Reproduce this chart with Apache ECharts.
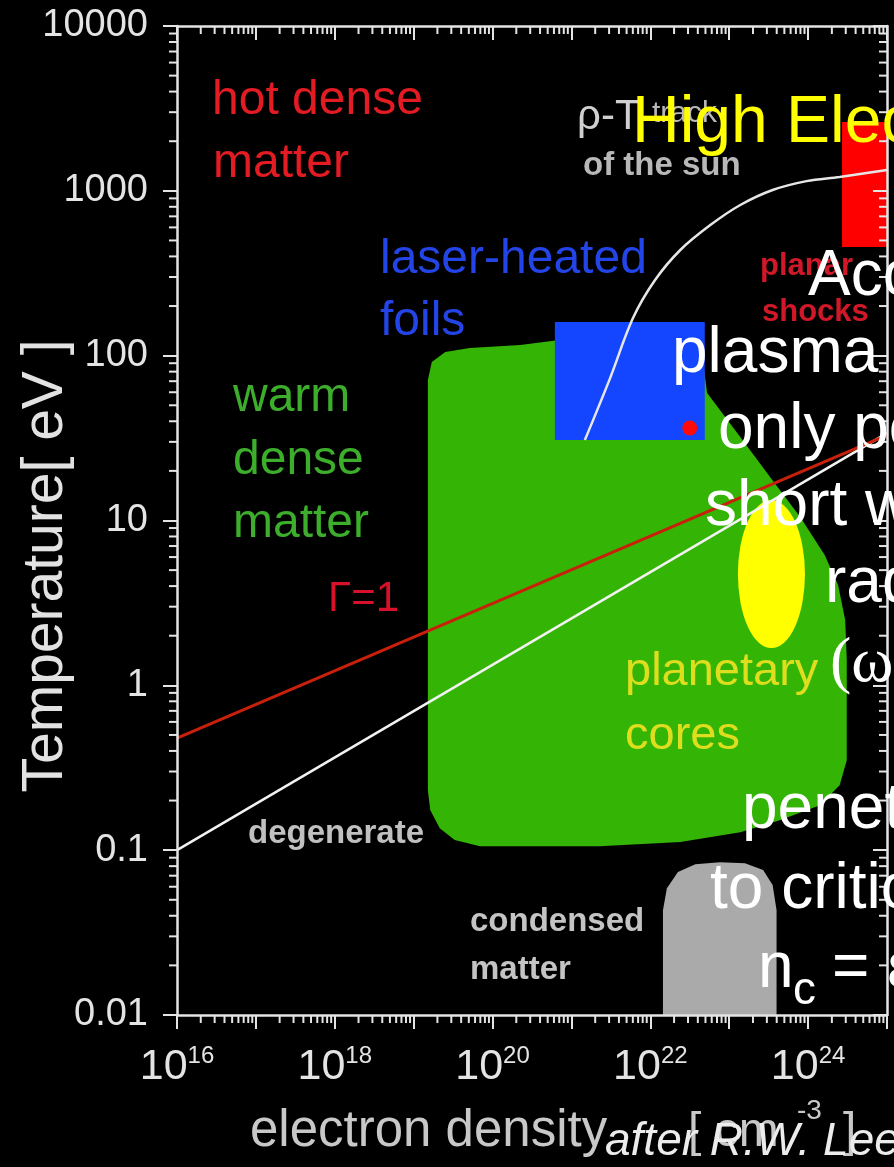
<!DOCTYPE html>
<html>
<head>
<meta charset="utf-8">
<script src="https://cdn.jsdelivr.net/npm/echarts@6/dist/echarts.min.js"></script>
<style>
  html, body { margin: 0; padding: 0; background: #000; }
  #chart { width: 894px; height: 1167px; }
</style>
</head>
<body>
<div id="chart"></div>
<script>
const SANS = '"Liberation Sans", Arial, Helvetica, sans-serif';
const SERIF = '"Liberation Serif", "Times New Roman", serif';
const AXIS_COLOR = '#e4e4e4';

// Axis ranges as powers of ten
const densityExpRange = [16, 25];   // electron density, cm^-3
const tempExpRange = [-2, 4];       // temperature, eV
const tempTickLabels = { '-2': '0.01', '-1': '0.1', '0': '1', '1': '10', '2': '100', '3': '1000', '4': '10000' };
const minorMultipliers = [2, 3, 4, 5, 6, 7, 8, 9];

// Regions and curves, as [log10 n_e, log10 T]
const warmDenseMatter = [
  [19.18, 1.852], [19.23, 1.961], [19.40, 2.022], [19.71, 2.046], [20.35, 2.064],
  [20.85, 2.095], [22.63, 2.095], [22.72, 1.773], [23.14, 1.506], [23.52, 1.263],
  [23.90, 1.021], [24.21, 0.790], [24.38, 0.608], [24.47, 0.396], [24.49, 0.153],
  [24.49, -0.454], [24.40, -0.606], [24.15, -0.727], [23.64, -0.818], [23.14, -0.891],
  [22.38, -0.951], [21.36, -0.976], [19.84, -0.976], [19.52, -0.939], [19.33, -0.867],
  [19.21, -0.757], [19.18, -0.636]
];
const condensedMatter = [
  [22.16, -2.0], [22.16, -1.364], [22.21, -1.231], [22.35, -1.133], [22.57, -1.085],
  [22.88, -1.073], [23.20, -1.079], [23.43, -1.121], [23.55, -1.212], [23.60, -1.364],
  [23.60, -2.0]
];
const laserHeatedFoils = [[20.79, 1.488], [22.69, 2.204]];   // opposite corners
const planarShocks = [[24.43, 2.659], [25.0, 3.417]];        // opposite corners
const planetaryCores = [[23.11, 0.226], [23.96, 1.124]];     // ellipse bounding box
const gammaOneLine = [[16.0, -0.320], [25.0, 1.518]];
const degenerateLine = [[16.0, -1.0], [25.0, 1.530]];
const sunTrack = [
  [21.17, 1.488], [21.49, 1.864], [21.78, 2.228], [22.06, 2.459], [22.38, 2.641],
  [22.76, 2.792], [23.14, 2.914], [23.55, 3.005], [23.98, 3.059], [24.40, 3.084],
  [25.00, 3.126]
];
const experimentPoint = [[22.50, 1.561]];

const toValue = p => [Math.pow(10, p[0]), Math.pow(10, p[1])];

function minorValues(expRange) {
  const out = [];
  for (let e = expRange[0]; e < expRange[1]; e++) {
    minorMultipliers.forEach(m => out.push(m * Math.pow(10, e)));
  }
  return out;
}

function polygonSeries(name, pts, color, z) {
  const data = pts.map(toValue);
  return {
    type: 'custom', name, z, silent: true, clip: false, data,
    renderItem(params, api) {
      if (params.dataIndex !== 0) return null;
      return { type: 'polygon', shape: { points: data.map(d => api.coord(d)) }, style: { fill: color } };
    }
  };
}

function boxSeries(name, corners, color, z) {
  const data = corners.map(toValue);
  return {
    type: 'custom', name, z, silent: true, clip: true, data,
    renderItem(params, api) {
      if (params.dataIndex !== 0) return null;
      const a = api.coord(data[0]), b = api.coord(data[1]);
      return {
        type: 'rect',
        shape: { x: Math.min(a[0], b[0]), y: Math.min(a[1], b[1]), width: Math.abs(b[0] - a[0]), height: Math.abs(b[1] - a[1]) },
        style: { fill: color }
      };
    }
  };
}

function ellipseSeries(name, corners, color, z) {
  const data = corners.map(toValue);
  return {
    type: 'custom', name, z, silent: true, clip: false, data,
    renderItem(params, api) {
      if (params.dataIndex !== 0) return null;
      const a = api.coord(data[0]), b = api.coord(data[1]);
      const rx = Math.abs(b[0] - a[0]) / 2, ry = Math.abs(b[1] - a[1]) / 2;
      return {
        type: 'circle', x: (a[0] + b[0]) / 2, y: (a[1] + b[1]) / 2, scaleX: rx / ry, scaleY: 1,
        shape: { cx: 0, cy: 0, r: ry }, style: { fill: color }
      };
    }
  };
}

function lineSeries(name, pts, color, width, smooth, z) {
  return {
    type: 'line', name, z, silent: true, symbol: 'none', smooth, data: pts.map(toValue),
    lineStyle: { color, width }
  };
}

// Log-decade minor ticks on the four sides of the frame
function minorTickSeries(axis) {
  const values = axis === 'x' ? minorValues(densityExpRange) : minorValues(tempExpRange);
  const data = values.map(v => axis === 'x' ? [v, 1] : [1e20, v]);
  const len = 8;
  return {
    type: 'custom', name: axis + ' minor ticks', z: 7, silent: true, clip: false, data,
    renderItem(params, api) {
      const cs = params.coordSys;
      const p = api.coord([api.value(0), api.value(1)]);
      const st = { stroke: AXIS_COLOR, lineWidth: 2 };
      if (axis === 'x') {
        const bottom = cs.y + cs.height;
        return { type: 'group', children: [
          { type: 'line', shape: { x1: p[0], y1: bottom, x2: p[0], y2: bottom + len }, style: st },
          { type: 'line', shape: { x1: p[0], y1: cs.y, x2: p[0], y2: cs.y + len }, style: st }
        ] };
      }
      const right = cs.x + cs.width;
      return { type: 'group', children: [
        { type: 'line', shape: { x1: cs.x - len, y1: p[1], x2: cs.x, y2: p[1] }, style: st },
        { type: 'line', shape: { x1: right - len, y1: p[1], x2: right, y2: p[1] }, style: st }
      ] };
    }
  };
}

function txt(text, x, baseline, size, color, o = {}) {
  return {
    type: 'text', x, y: baseline - 0.35 * size, z: 100, silent: true, rotation: o.rotation || 0,
    style: {
      text, fill: color, fontSize: size, fontFamily: o.family || SANS,
      fontWeight: o.weight || 'normal', fontStyle: o.style || 'normal',
      align: o.align || 'left', verticalAlign: 'middle'
    }
  };
}

const expOf = v => Math.round(Math.log10(v));

const baseAxis = {
  type: 'log', logBase: 10, splitLine: { show: false }, z: 6,
  axisLine: { show: true, onZero: false, lineStyle: { color: AXIS_COLOR, width: 2.5 } },
  axisTick: { show: true, length: 14, lineStyle: { color: AXIS_COLOR, width: 2 } },
  minorTick: { show: false }
};

const option = {
  backgroundColor: '#000',
  animation: false,
  grid: { left: 177, right: 7, top: 26, bottom: 152, containLabel: false, outerBoundsMode: 'none' },
  xAxis: [
    Object.assign({}, baseAxis, {
      position: 'bottom', min: Math.pow(10, densityExpRange[0]), max: Math.pow(10, densityExpRange[1]),
      axisLabel: {
        margin: 29,
        formatter: v => { const e = expOf(v); return e % 2 === 0 ? '{b|10}{s|' + e + '}' : ''; },
        rich: {
          b: { fontSize: 43, fontFamily: SANS, color: AXIS_COLOR, lineHeight: 46 },
          s: { fontSize: 24, fontFamily: SANS, color: AXIS_COLOR, lineHeight: 20, verticalAlign: 'top' }
        }
      }
    }),
    Object.assign({}, baseAxis, {
      position: 'top', min: Math.pow(10, densityExpRange[0]), max: Math.pow(10, densityExpRange[1]),
      axisTick: { show: true, inside: true, length: 14, lineStyle: { color: AXIS_COLOR, width: 2 } },
      axisLabel: { show: false }
    })
  ],
  yAxis: [
    Object.assign({}, baseAxis, {
      position: 'left', min: Math.pow(10, tempExpRange[0]), max: Math.pow(10, tempExpRange[1]),
      axisLabel: {
        margin: 29, fontSize: 38, fontFamily: SANS, color: AXIS_COLOR,
        formatter: v => tempTickLabels[String(expOf(v))] || ''
      }
    }),
    Object.assign({}, baseAxis, {
      position: 'right', min: Math.pow(10, tempExpRange[0]), max: Math.pow(10, tempExpRange[1]),
      axisTick: { show: true, inside: true, length: 14, lineStyle: { color: AXIS_COLOR, width: 2 } },
      axisLabel: { show: false }
    })
  ],
  series: [
    polygonSeries('warm dense matter', warmDenseMatter, '#34b404', 1),
    polygonSeries('condensed matter', condensedMatter, '#aaaaaa', 1),
    boxSeries('laser-heated foils', laserHeatedFoils, '#1446ff', 2),
    ellipseSeries('planetary cores', planetaryCores, '#ffff00', 2),
    boxSeries('planar shocks', planarShocks, '#ff0000', 2),
    lineSeries('degenerate', degenerateLine, '#f2f2f2', 2.5, false, 3),
    lineSeries('Γ=1', gammaOneLine, '#c8200a', 3, false, 3),
    lineSeries('ρ-T track of the sun', sunTrack, '#e6e6e6', 2.5, 0.35, 3),
    {
      type: 'scatter', name: 'experiment', z: 4, silent: true, symbol: 'circle', symbolSize: 15,
      data: experimentPoint.map(toValue), itemStyle: { color: '#ff0a0a', opacity: 1 }
    },
    minorTickSeries('x'),
    minorTickSeries('y')
  ],
  graphic: [
    // axis titles
    txt('Temperature[ eV ]', 46, 566 + 0.35 * 57, 57, '#e2e2e2', { rotation: Math.PI / 2, align: 'center' }),
    txt('electron density', 250, 1150, 51, '#c8c8c8'),
    txt('[ cm', 688, 1150, 48, '#c8c8c8'),
    txt('-3', 797, 1121, 28, '#c8c8c8'),
    txt(']', 843, 1150, 48, '#c8c8c8'),
    txt('after R.W. Lee et al.', 605, 1158, 46, '#ececec', { style: 'italic' }),
    // region labels
    txt('hot dense', 212, 118, 48, '#e31b23'),
    txt('matter', 213, 181, 48, '#e31b23'),
    txt('ρ-T', 577, 132, 42, '#d0d0d0'),
    txt('track', 652, 124, 30, '#b8b8b8'),
    txt('of the sun', 583, 177, 33, '#b8b8b8', { weight: 'bold' }),
    txt('laser-heated', 380, 277, 48, '#2345e8'),
    txt('foils', 380, 339, 48, '#2345e8'),
    txt('warm', 233, 415, 48, '#3cae2c'),
    txt('dense', 233, 478, 48, '#3cae2c'),
    txt('matter', 233, 541, 48, '#3cae2c'),
    txt('Γ=1', 328, 614, 42, '#d8102a'),
    txt('degenerate', 248, 845, 33, '#c0c0c0', { weight: 'bold' }),
    txt('condensed', 470, 933, 33, '#c4c4c4', { weight: 'bold' }),
    txt('matter', 470, 981, 33, '#c4c4c4', { weight: 'bold' }),
    txt('planetary', 625, 688, 47, '#dede1e'),
    txt('cores', 625, 752, 47, '#dede1e'),
    txt('planar', 760, 277, 31, '#d01828', { weight: 'bold' }),
    txt('shocks', 762, 323, 31, '#d01828', { weight: 'bold' }),
    // slide heading and notes
    txt('High Electron Density', 632, 147, 66, '#ffff00'),
    txt('Access to this', 808, 300, 64, '#ffffff'),
    txt('plasma regime is', 672, 377, 64, '#ffffff'),
    txt('only possible with', 718, 453, 64, '#ffffff'),
    txt('short wavelength', 705, 530, 64, '#ffffff'),
    txt('radiation', 825, 607, 64, '#ffffff'),
    txt('(ω > ω', 830, 687, 64, '#ffffff', { family: SERIF }),
    txt('penetrate up', 742, 833, 64, '#ffffff'),
    txt('to critical density', 710, 913, 64, '#ffffff'),
    txt('n', 758, 992, 64, '#ffffff'),
    txt('c', 793, 1007, 46, '#ffffff'),
    txt('= ε₀mω²/e²', 832, 992, 64, '#ffffff')
  ]
};

const chart = echarts.init(document.getElementById('chart'), null, { renderer: 'canvas' });
chart.setOption(option);
</script>
</body>
</html>
